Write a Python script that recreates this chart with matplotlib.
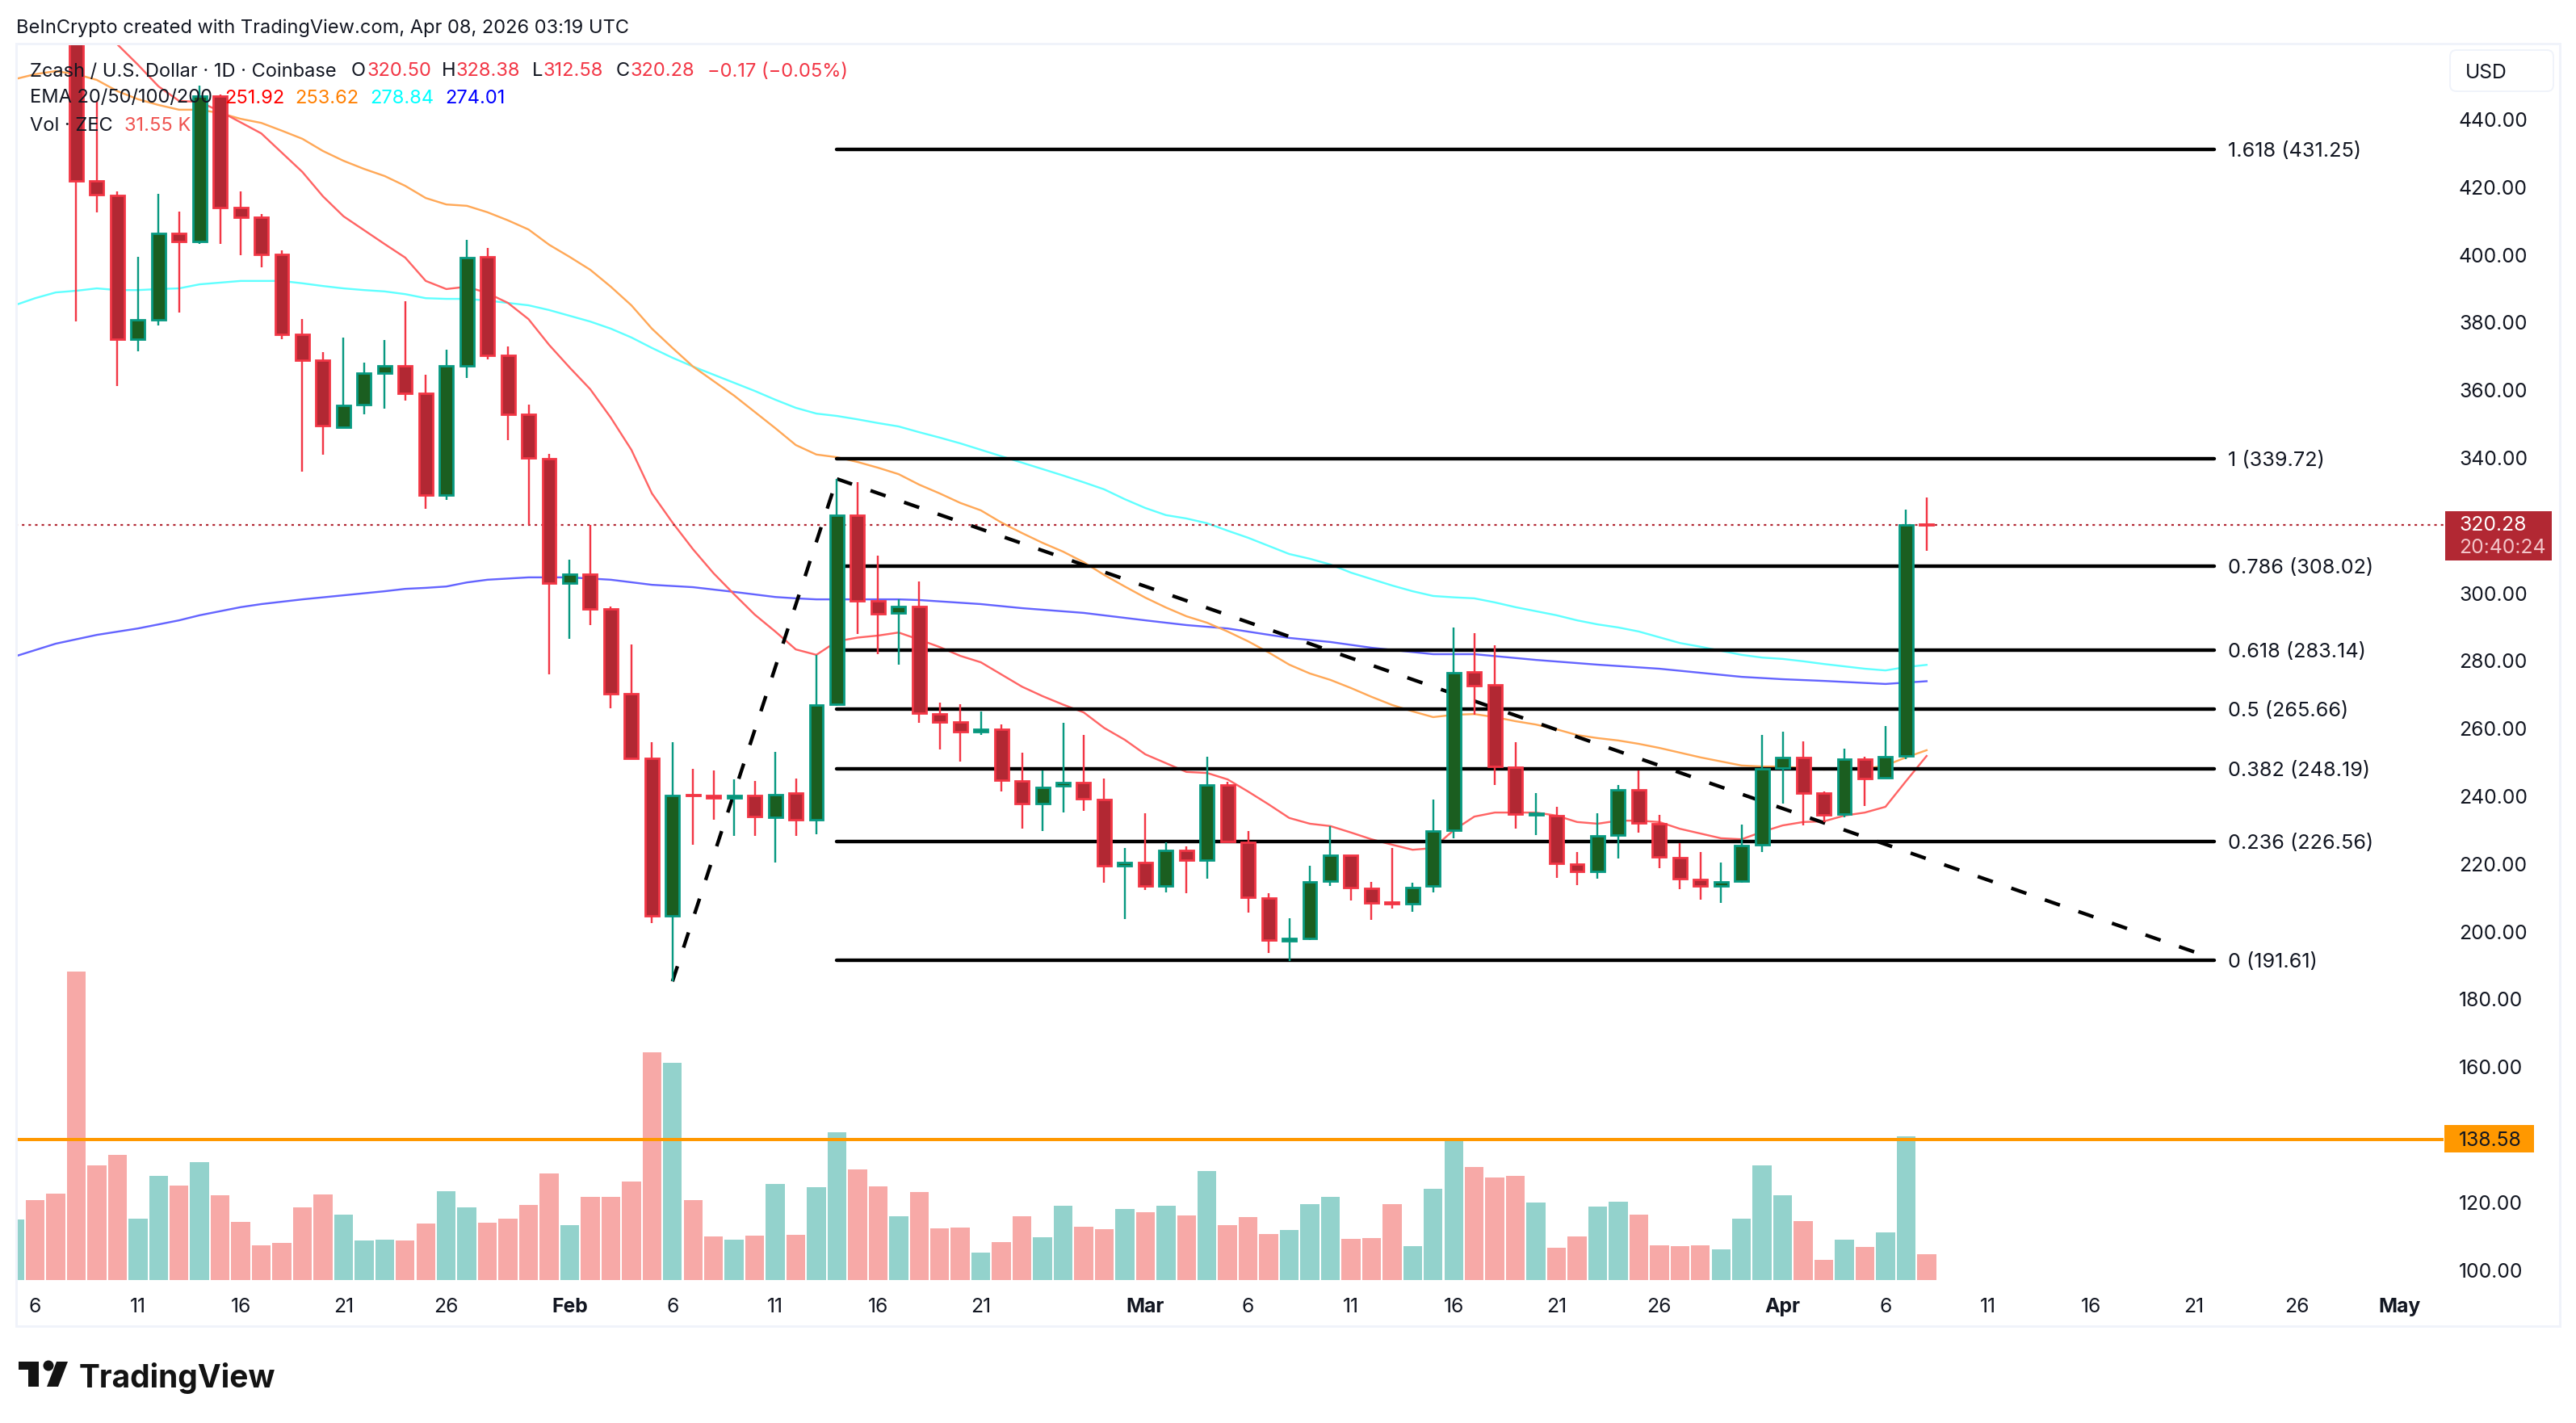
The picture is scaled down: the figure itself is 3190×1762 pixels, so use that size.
import numpy as np
import matplotlib
matplotlib.use("Agg")
import matplotlib.pyplot as plt
from matplotlib.patches import Rectangle, FancyBboxPatch, Polygon, Ellipse

plt.rcParams['font.family'] = ['Inter', 'DejaVu Sans']

# ---------- data (x = days after 6 Jan 2026) ----------
candle_days = list(range(2, 93))
opens = [470.0, 421.9, 417.6, 375.1, 380.8, 406.3, 404.0, 446.9, 414.0, 411.1, 400.1, 376.5, 368.9, 349.0, 355.7, 365.0, 367.2, 359.1, 329.0, 367.2, 399.4, 370.3, 352.9, 339.8,
         303.0, 305.6, 295.4, 270.3, 251.2, 204.7, 240.5, 240.2, 239.5, 240.2, 233.8, 241.0, 233.1, 267.2, 323.1, 297.8, 294.2, 296.1, 264.3, 262.0, 259.1, 259.8, 244.5, 237.8, 243.1, 244.1, 239.1, 219.5,
         220.4, 213.5, 224.0, 221.1, 243.3, 226.4, 209.9, 197.3, 198.0, 214.9, 222.6, 212.8, 208.7, 208.2, 213.5, 230.0, 276.7, 272.9, 248.6, 234.5, 234.3, 220.0, 217.8, 228.5, 241.9, 231.9, 221.9, 215.4, 213.5, 214.9, 225.7,
         248.3, 251.5, 241.0, 234.7, 251.0, 245.5, 251.9, 320.50]
highs = [490.0, 445.5, 418.8, 399.4, 418.0, 412.8, 450.0, 447.5, 418.8, 412.1, 401.3, 381.0, 371.3, 375.6, 368.2, 374.8, 386.3, 364.6, 372.0, 404.4, 402.0, 372.9, 355.7, 341.2,
         309.9, 320.2, 296.1, 284.9, 256.0, 256.0, 248.1, 247.6, 245.0, 244.5, 253.1, 245.3, 281.8, 333.8, 332.8, 311.1, 298.2, 303.5, 267.7, 267.2, 265.0, 261.2, 252.9, 247.6, 261.7, 258.1, 245.3, 224.7,
         235.0, 226.4, 225.2, 251.7, 244.3, 229.7, 211.3, 204.0, 219.5, 231.2, 222.6, 214.7, 224.7, 214.5, 239.0, 289.9, 288.2, 284.6, 256.0, 241.0, 236.9, 223.5, 235.0, 243.3, 247.6, 234.5, 226.2, 223.5, 220.4, 231.6, 258.1,
         259.1, 256.2, 241.4, 254.1, 251.7, 260.8, 324.8, 328.38]
lows = [380.3, 412.5, 361.2, 371.5, 379.1, 383.0, 403.2, 403.2, 399.9, 396.3, 375.1, 335.9, 341.0, 349.0, 352.9, 354.5, 357.0, 325.0, 327.6, 363.6, 369.1, 345.2, 320.2, 276.0,
        286.5, 290.6, 266.0, 251.2, 202.5, 185.3, 225.7, 233.1, 228.3, 228.3, 220.4, 228.3, 228.8, 266.7, 288.0, 282.0, 278.9, 261.7, 253.8, 250.3, 258.1, 241.4, 230.4, 229.7, 235.2, 235.7, 214.5, 203.7,
        212.3, 211.6, 211.3, 215.7, 226.6, 205.6, 193.7, 191.3, 197.5, 213.5, 209.2, 203.5, 206.8, 205.9, 211.6, 227.6, 264.1, 243.3, 230.4, 228.5, 215.9, 213.7, 215.7, 221.6, 229.3, 218.7, 212.6, 209.4, 208.5, 214.5, 223.5,
        237.9, 231.4, 232.4, 233.8, 237.1, 245.5, 250.9, 312.58]
closes = [421.9, 417.8, 375.1, 380.8, 406.3, 404.0, 446.9, 414.0, 411.1, 400.1, 376.5, 368.9, 349.5, 355.5, 365.0, 367.2, 359.1, 329.0, 367.2, 399.2, 370.3, 352.9, 340.0, 303.0,
          305.6, 295.4, 270.3, 251.2, 204.7, 240.2, 240.2, 239.5, 240.2, 234.0, 240.5, 233.1, 266.9, 323.1, 297.8, 293.9, 296.1, 264.6, 262.0, 259.1, 259.8, 244.8, 237.8, 242.6, 244.1, 239.3, 219.5, 220.4,
          213.5, 224.0, 221.1, 243.3, 226.6, 210.2, 197.5, 198.0, 214.7, 222.6, 213.0, 208.5, 208.3, 213.0, 229.7, 276.5, 272.7, 248.8, 234.7, 235.0, 220.2, 217.8, 228.3, 241.9, 232.1, 222.1, 215.7, 213.5, 214.7, 225.4, 248.1,
          251.5, 241.0, 234.5, 251.0, 245.3, 251.7, 320.2, 320.28]

volume_days = list(range(-1, 93))
volumes_k = [75, 99, 107, 382, 142, 155, 76, 129, 117, 146, 105, 72, 43, 46, 90, 106, 81, 49, 50, 49, 70, 110, 90, 71, 76, 93, 132,
             68, 103, 103, 122, 282, 269, 99, 54, 50, 55, 119, 56, 115, 183, 137, 116, 79, 109, 64, 65, 34, 47, 79, 53, 92, 66, 63, 88,
             84, 92, 80, 135, 68, 78, 57, 62, 94, 103, 51, 52, 94, 42, 113, 175, 140, 127, 129, 96, 40, 54, 91, 97, 81, 43, 42, 43, 38, 76, 142,
             105, 73, 25, 50, 41, 59, 178, 31.55]
volume_up = [1, 0, 0, 0, 0, 0, 1, 1, 0, 1, 0, 0, 0, 0, 0, 0, 1, 1, 1, 0, 0, 1, 1, 0, 0, 0, 0,
             1, 0, 0, 0, 0, 1, 0, 0, 1, 0, 1, 0, 1, 1, 0, 0, 1, 0, 0, 0, 1, 0, 0, 1, 1, 0, 0, 1,
             0, 1, 0, 1, 0, 0, 0, 1, 1, 1, 0, 0, 0, 1, 1, 1, 0, 0, 0, 1, 0, 0, 1, 1, 0, 0, 0, 0, 1, 1, 1,
             1, 0, 0, 1, 0, 1, 1, 0]

ema20_days = [4, 5, 6, 7, 8, 9, 11] + list(range(13, 93))
ema20 = [462.2, 456.2, 449.8, 445.5, 445.2, 442.4, 435.9, 424.5, 417.3, 411.4, 407.3, 403.2, 399.2, 392.3, 389.9, 390.6, 388.7, 385.8, 381.0, 373.4, 366.7, 360.3, 351.9, 342.4,
         329.5, 320.9, 313.0, 305.9, 299.7, 293.7, 288.7, 283.4, 281.8, 285.8, 286.9, 287.5, 288.4, 286.3, 284.1, 281.5, 279.6, 276.0, 272.4, 269.6, 267.1, 264.8, 260.2, 256.7, 252.4, 249.8, 247.2, 246.9, 245.0, 241.4, 237.6, 233.6,
         231.9, 231.2, 229.3, 227.3, 225.7, 224.2, 224.7, 230.0, 234.0, 235.2, 235.2, 235.2, 234.3, 232.4, 231.9, 232.8, 232.8, 232.4, 230.4, 229.0, 227.6, 227.3, 229.5, 231.4, 232.4, 232.6, 234.3, 235.2, 236.9, 244.5, 251.92]
ema_days = list(range(-1, 93))
ema50 = [451.9, 453.4, 454.3, 453.4, 451.7, 448.4, 446.0, 444.3, 442.9, 442.9, 441.9, 440.2, 439.0, 436.7, 434.3, 430.7, 427.8, 425.4, 423.3, 420.4, 416.8, 414.9, 414.5, 412.6, 410.2, 407.5, 403.0, 399.4, 395.6, 390.6, 385.1,
         378.2, 372.5, 367.0, 362.7, 358.4, 353.6, 348.8, 343.8, 341.0, 340.2, 338.8, 337.1, 335.2, 332.1, 329.5, 326.7, 324.5, 320.9, 317.8, 314.9, 312.3, 309.2, 305.4, 302.0, 298.7, 295.8, 293.2, 291.3, 288.7, 285.8, 282.5, 278.9,
         276.3, 274.4, 272.0, 269.4, 267.0, 265.1, 263.4, 264.1, 264.3, 263.4, 262.2, 261.2, 259.8, 258.1, 257.2, 256.5, 255.5, 254.3, 252.9, 251.5, 250.3, 249.1, 248.8, 248.8, 248.3, 247.9, 248.1, 248.1, 249.1, 251.5, 253.62]
ema100 = [385.1, 387.2, 388.9, 389.4, 390.1, 389.6, 389.6, 389.9, 390.1, 391.3, 391.8, 392.3, 392.3, 392.3, 391.6, 390.8, 390.1, 389.6, 389.2, 388.4, 387.2, 387.0, 387.0, 386.5, 385.8, 385.1, 383.7, 382.0, 380.3, 378.2, 375.6,
          372.5, 369.6, 367.0, 364.6, 362.2, 359.8, 357.2, 354.8, 353.1, 352.4, 351.4, 350.3, 349.3, 347.6, 346.0, 344.3, 342.4, 340.5, 338.6, 336.7, 334.8, 332.8, 330.7, 327.8, 325.2, 323.1, 322.1, 320.7, 318.5, 316.4, 314.0, 311.6,
          310.2, 308.5, 306.1, 304.2, 302.3, 300.6, 299.2, 298.8, 298.5, 297.3, 295.9, 294.7, 293.5, 292.0, 290.8, 289.9, 288.7, 287.0, 285.3, 284.2, 283.0, 281.8, 281.0, 280.6, 279.9, 279.1, 278.4, 277.7, 277.2, 278.2, 278.84]
ema200_days = [-1, 1, 3, 5, 7, 8, 10, 11, 13, 15, 17, 18, 19, 20, 21, 22, 24, 26, 28, 30, 32, 34, 36, 37, 38, 42, 43, 46, 48, 51, 54, 56, 58, 61, 63, 65, 68, 70, 73, 76, 79, 83, 85, 87, 90, 92]
ema200 = [281.3, 285.1, 287.7, 289.6, 292.0, 293.5, 295.9, 296.8, 298.2, 299.4, 300.6, 301.3, 301.6, 302.0, 303.2, 304.0, 304.7, 304.7, 304.0, 302.5, 301.8, 300.4, 298.9, 298.5, 298.2, 298.2, 298.0, 296.8, 295.6, 294.2, 292.0, 290.6, 289.6, 286.8, 285.6, 283.9, 282.0, 282.0, 280.3, 278.9, 277.7, 275.3, 274.6, 274.1, 273.2, 274.01]

fib_levels = [1.618, 1, 0.786, 0.618, 0.5, 0.382, 0.236, 0]
fib_prices = [431.25, 339.72, 308.02, 283.14, 265.66, 248.19, 226.56, 191.61]
fib_days = [39, 106]
trend_up_days = [31, 39]
trend_up_prices = [185.3, 333.8]
trend_down_days = [39, 105.4]
trend_down_prices = [333.8, 193.2]
last_price = 320.28
alert_price = 138.58

price_ticks = [440, 420, 400, 380, 360, 340, 300, 280, 260, 240, 220, 200, 180, 160, 120, 100]
day_ticks = [0, 5, 10, 15, 20, 26, 31, 36, 41, 46, 54, 59, 64, 69, 74, 79, 85, 90, 95, 100, 105, 110, 115]
day_labels = ['6', '11', '16', '21', '26', 'Feb', '6', '11', '16', '21', 'Mar', '6', '11', '16', '21', '26', 'Apr', '6', '11', '16', '21', '26', 'May']

# ---------- layout ----------
W, H = 3190, 1762
PX_PER_DAY, X0 = 25.46, 43.5
PX_PER_USD = 4.19
Y440 = 148.0
L, R, T, B = 19, 3026, 53, 1600
INK = '#131722'
UP_EDGE, UP_FILL = '#089981', '#1b5e20'
DN_EDGE, DN_FILL = '#f23645', '#b22833'
px = 72 / 100
FS_AXIS = 17.8
FS_FIB = 18.2
FS_LEG = 17.0

def fx(x): return x / W
def fy(y): return 1 - y / H
def label(x, y, s, **kw):
    kw.setdefault('color', INK)
    kw.setdefault('fontsize', FS_LEG)
    kw.setdefault('va', 'center_baseline')
    return fig.text(fx(x), fy(y), s, **kw)

fig = plt.figure(figsize=(W / 100, H / 100), dpi=100, facecolor='white')
rect = [fx(L), fy(B), (R - L) / W, (B - T) / H]

# outer frame
fig.add_artist(Rectangle((fx(19.5), fy(1642)), (3170 - 19.5) / W, (1642 - 53.5) / H, transform=fig.transFigure,
                         fc='none', ec='#f0f3fa', lw=3 * px))

axv = fig.add_axes(rect, facecolor='none')
ax = fig.add_axes(rect, facecolor='none')
xlim = ((L - X0) / PX_PER_DAY, (R - X0) / PX_PER_DAY)
ax.set_xlim(xlim); axv.set_xlim(xlim)
ax.set_ylim(440 - (B - Y440) / PX_PER_USD, 440 + (Y440 - T) / PX_PER_USD)
axv.set_ylim(-(B - 1585) / 1.0, 1585 - T)
axv.axis('off')

# volume
axv.bar(volume_days, volumes_k, width=0.92,
        color=['#93d2cc' if u else '#f7a9a7' for u in volume_up], linewidth=0)

# EMAs
ax.plot(ema200_days, ema200, color='#6464ff', lw=2.4 * px, zorder=2)
ax.plot(ema_days, ema100, color='#60ffff', lw=2.4 * px, zorder=2)
ax.plot(ema_days, ema50, color='#ffa857', lw=2.4 * px, zorder=2)
ax.plot(ema20_days, ema20, color='#ff6464', lw=2.4 * px, zorder=2)

# price line and alert line
ax.axhline(last_price, color=DN_FILL, lw=2.2 * px, dashes=(1.4, 2.3), dash_capstyle='butt', zorder=2.5)
ax.axhline(alert_price, color='#ff9800', lw=4 * px, zorder=3)

# fib levels
for lv, pr in zip(fib_levels, fib_prices):
    ax.plot(fib_days, [pr, pr], color='black', lw=4.4 * px, solid_capstyle='round', zorder=3)
    ax.text(fib_days[1] + 17 / PX_PER_DAY, pr, f'{lv} ({pr:.2f})', color=INK, fontsize=FS_FIB,
            va='center_baseline', ha='left')

# trend lines
for d, p in ((trend_up_days, trend_up_prices), (trend_down_days, trend_down_prices)):
    ax.plot(d, p, color='black', lw=4.4 * px, dashes=(4.5, 5.5), dash_capstyle='butt', zorder=3.5)

# candles
c = np.array(candle_days); o = np.array(opens); h = np.array(highs); l = np.array(lows); cl = np.array(closes)
up = cl >= o
ax.vlines(c[up], l[up], h[up], color=UP_EDGE, lw=2.4 * px, zorder=4)
ax.vlines(c[~up], l[~up], h[~up], color=DN_EDGE, lw=2.4 * px, zorder=4)
ax.bar(c[up], (cl - o)[up], bottom=o[up], width=0.665, color=UP_FILL, edgecolor=UP_EDGE, linewidth=2.8 * px, zorder=5)
ax.bar(c[~up], (cl - o)[~up], bottom=o[~up], width=0.665, color=DN_FILL, edgecolor=DN_EDGE, linewidth=2.8 * px, zorder=5)

# axes dressing
for s in ax.spines.values():
    s.set_visible(False)
ax.yaxis.tick_right()
ax.set_yticks(price_ticks)
ax.set_yticklabels([f'{t:.2f}' for t in price_ticks], fontsize=FS_AXIS, color=INK, va='center_baseline')
ax.tick_params(axis='y', length=0, pad=19 * px)
ax.set_xticks(day_ticks)
ax.set_xticklabels(day_labels, fontsize=FS_AXIS, color=INK)
ax.tick_params(axis='x', length=0, pad=7 * px)
for t in ax.get_xticklabels():
    if not t.get_text().isdigit():
        t.set_fontweight('bold')

# top note
label(20, 32, 'BeInCrypto created with TradingView.com, Apr 08, 2026 03:19 UTC')

# legend rows
RED = '#f23645'
label(37, 86, 'Zcash / U.S. Dollar · 1D · Coinbase')
for x, s, col in [(435, 'O', INK), (454, '320.50', RED), (547, 'H', INK), (565, '328.38', RED), (659, 'L', INK),
                  (673, '312.58', RED), (763, 'C', INK), (781, '320.28', RED), (876, '−0.17 (−0.05%)', RED)]:
    label(x, 86, s, color=col)
label(37, 119, 'EMA 20/50/100/200')
for x, s, col in [(278, '251.92', '#ff0000'), (365, '253.62', '#ff7f00'), (458, '278.84', '#00ffff'), (551, '274.01', '#0000ff')]:
    label(x, 119, s, color=col)
label(37, 153, 'Vol · ZEC')
label(154, 153, '31.55 K', color='#ef5350')

# USD box
fig.add_artist(FancyBboxPatch((fx(3034), fy(113)), 128 / W, 51 / H, boxstyle='round,pad=0,rounding_size=0.0025',
                              mutation_aspect=W / H, transform=fig.transFigure, fc='white', ec='#f0f3fa', lw=2 * px))
label(3053, 88, 'USD', fontsize=FS_AXIS)

# last price tag
fig.add_artist(Rectangle((fx(3028), fy(694)), 132 / W, 61 / H, transform=fig.transFigure, fc=DN_FILL, ec='none'))
label(3045, 648, '320.28', color='white', fontsize=FS_AXIS)
label(3045, 676, '20:40:24', color='#f2c4c8', fontsize=FS_AXIS)

# alert tag
fig.add_artist(Rectangle((fx(3027), fy(1427)), 111 / W, 34 / H, transform=fig.transFigure, fc='#ff9800', ec='none'))
label(3045, 1410, '138.58', fontsize=FS_AXIS)

# TradingView logo
logo = dict(transform=fig.transFigure, fc='#131313', ec='none')
def poly(pts):
    fig.add_artist(Polygon([(fx(a), fy(b)) for a, b in pts], closed=True, **logo))
poly([(23, 1686), (48, 1686), (48, 1717), (35, 1717), (35, 1696), (23, 1696)])
poly([(70, 1686), (84, 1686), (72, 1717), (58, 1717)])
fig.add_artist(Ellipse((fx(60), fy(1691)), 13 / W, 13 / H, **logo))
label(98, 1702, 'TradingView', fontsize=28, fontweight='bold', color='#131313')

fig.savefig('out.png', dpi=100)
